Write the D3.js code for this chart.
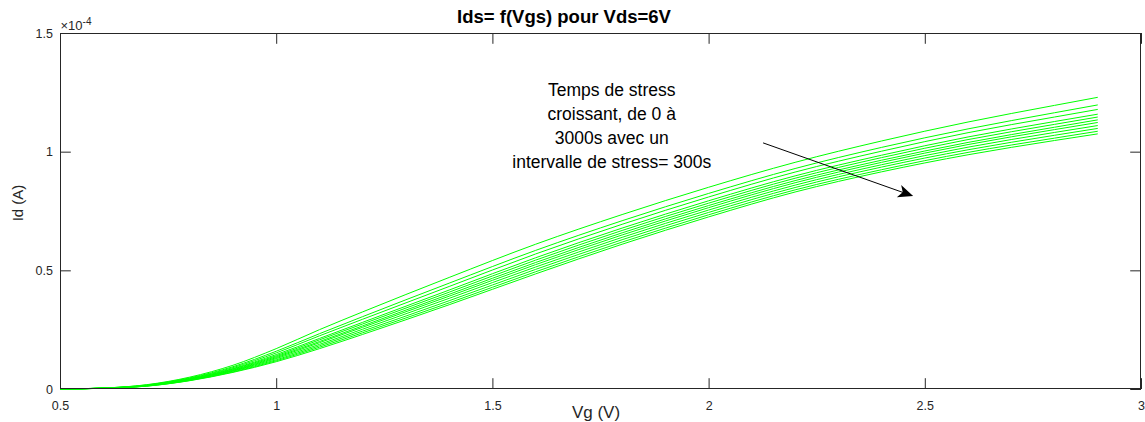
<!DOCTYPE html>
<html>
<head>
<meta charset="utf-8">
<script src="https://cdn.jsdelivr.net/npm/d3@7"></script>
<style>
  html, body { margin: 0; padding: 0; background: #fff; }
  svg { display: block; font-family: "Liberation Sans", Arial, Helvetica, sans-serif; }
</style>
</head>
<body>
<svg id="chart" width="1145" height="422"></svg>
<script>
// Gate voltage samples (V)
const vg = [0.5, 0.6, 0.7, 0.8, 0.9, 1.0, 1.1, 1.2, 1.4, 1.6, 1.8, 2.0, 2.2, 2.4, 2.6, 2.8, 2.9];

// Drain current (units of 1e-4 A) after each stress time, Vds = 6 V
const id_0s    = [0, 0.004,  0.018, 0.050, 0.100, 0.170, 0.250, 0.325, 0.470, 0.610, 0.735, 0.850, 0.955, 1.045, 1.125, 1.195, 1.229];
const id_300s  = [0, 0.004,  0.017, 0.047, 0.094, 0.159, 0.233, 0.305, 0.446, 0.584, 0.709, 0.824, 0.929, 1.018, 1.096, 1.164, 1.197];
const id_600s  = [0, 0.004,  0.016, 0.045, 0.090, 0.152, 0.224, 0.294, 0.432, 0.569, 0.694, 0.809, 0.914, 1.002, 1.080, 1.146, 1.178];
const id_900s  = [0, 0.0035, 0.015, 0.043, 0.086, 0.145, 0.213, 0.281, 0.417, 0.553, 0.678, 0.793, 0.898, 0.985, 1.062, 1.127, 1.158];
const id_1200s = [0, 0.0035, 0.015, 0.042, 0.084, 0.140, 0.207, 0.274, 0.408, 0.543, 0.668, 0.783, 0.888, 0.975, 1.051, 1.115, 1.146];
const id_1500s = [0, 0.0034, 0.014, 0.041, 0.081, 0.136, 0.200, 0.266, 0.399, 0.533, 0.658, 0.773, 0.878, 0.964, 1.039, 1.103, 1.134];
const id_1800s = [0, 0.0033, 0.014, 0.040, 0.079, 0.132, 0.195, 0.260, 0.391, 0.524, 0.649, 0.764, 0.869, 0.955, 1.030, 1.093, 1.123];
const id_2100s = [0, 0.0032, 0.013, 0.039, 0.077, 0.128, 0.188, 0.252, 0.382, 0.514, 0.639, 0.754, 0.859, 0.945, 1.019, 1.081, 1.110];
const id_2400s = [0, 0.0032, 0.013, 0.037, 0.075, 0.123, 0.182, 0.244, 0.372, 0.504, 0.629, 0.744, 0.849, 0.935, 1.008, 1.069, 1.098];
const id_2700s = [0, 0.003,  0.012, 0.036, 0.072, 0.119, 0.176, 0.237, 0.363, 0.494, 0.619, 0.734, 0.839, 0.924, 0.997, 1.057, 1.086];
const id_3000s = [0, 0.003,  0.012, 0.035, 0.070, 0.115, 0.170, 0.230, 0.355, 0.485, 0.610, 0.725, 0.830, 0.915, 0.987, 1.047, 1.075];

const series = [id_0s, id_300s, id_600s, id_900s, id_1200s, id_1500s, id_1800s,
                id_2100s, id_2400s, id_2700s, id_3000s];

// Axis ticks
const xTicks = [0.5, 1, 1.5, 2, 2.5, 3];
const xTickLabels = ["0.5", "1", "1.5", "2", "2.5", "3"];
const yTicks = [0, 0.5, 1, 1.5];
const yTickLabels = ["0", "0.5", "1", "1.5"];

// Annotation (position in data units)
const noteLines = ["Temps de stress", "croissant, de 0 à", "3000s avec un", "intervalle de stress= 300s"];
const noteAnchor = { vg: 1.776, id: 1.235 };
const arrowFrom = { vg: 2.126, id: 1.037 };
const arrowTo   = { vg: 2.473, id: 0.813 };

// ---- layout ----
const svg = d3.select("#chart");
const plot = { left: 60, right: 1141, top: 33, bottom: 389 };
const axisColor = "#262626";

const x = d3.scaleLinear().domain([0.5, 3]).range([plot.left, plot.right]);
const y = d3.scaleLinear().domain([0, 1.5]).range([plot.bottom, plot.top]);

const tickLen = 10.8;

// bottom and top axes
const xAxisB = d3.axisBottom(x).tickValues(xTicks)
  .tickFormat((d, i) => xTickLabels[i]).tickSizeInner(-tickLen).tickSizeOuter(0).tickPadding(12);
const xAxisT = d3.axisTop(x).tickValues(xTicks)
  .tickFormat("").tickSizeInner(-tickLen).tickSizeOuter(0);
const yAxisL = d3.axisLeft(y).tickValues(yTicks)
  .tickFormat((d, i) => yTickLabels[i]).tickSizeInner(-tickLen).tickSizeOuter(0).tickPadding(7);
const yAxisR = d3.axisRight(y).tickValues(yTicks)
  .tickFormat("").tickSizeInner(-tickLen).tickSizeOuter(0);

function styleAxis(g) {
  g.select(".domain").remove();
  g.selectAll(".tick line").attr("stroke", axisColor).attr("stroke-width", 1);
  g.selectAll(".tick text").attr("fill", axisColor).style("font-size", "12.5px")
    .style("font-family", "'Liberation Sans', Arial, sans-serif");
}

svg.append("g").attr("transform", `translate(0,${plot.bottom})`).call(xAxisB).call(styleAxis);
svg.append("g").attr("transform", `translate(0,${plot.top})`).call(xAxisT).call(styleAxis);
svg.append("g").attr("transform", `translate(${plot.left},0)`).call(yAxisL).call(styleAxis);
svg.append("g").attr("transform", `translate(${plot.right},0)`).call(yAxisR).call(styleAxis);

// curves
const line = d3.line()
  .x((d, i) => x(vg[i]))
  .y(d => y(d))
  .curve(d3.curveMonotoneX);

svg.append("g")
  .selectAll("path")
  .data(series)
  .join("path")
  .attr("d", line)
  .attr("fill", "none")
  .attr("stroke", "#00ff00")
  .attr("stroke-width", 1);

// axes box
svg.append("rect")
  .attr("x", plot.left + 0.5).attr("y", plot.top + 0.5)
  .attr("width", plot.right - plot.left - 1).attr("height", plot.bottom - plot.top - 1)
  .attr("fill", "none").attr("stroke", axisColor).attr("stroke-width", 1);

// exponent label
const expo = svg.append("text")
  .attr("x", plot.left + 0.5).attr("y", plot.top - 3)
  .attr("fill", axisColor).style("font-size", "13px");
expo.append("tspan").text("×10");
expo.append("tspan").attr("dy", -5).style("font-size", "10px").text("-4");

// title
svg.append("text")
  .attr("x", 564).attr("y", 23)
  .attr("text-anchor", "middle")
  .style("font-size", "18.5px").style("font-weight", "bold")
  .attr("fill", "#000")
  .text("Ids= f(Vgs) pour Vds=6V");

// axis labels
svg.append("text")
  .attr("x", 596).attr("y", 418)
  .attr("text-anchor", "middle")
  .style("font-size", "17px").attr("fill", axisColor)
  .text("Vg (V)");

svg.append("text")
  .attr("transform", `translate(23,${(plot.top + plot.bottom) / 2 - 8}) rotate(-90)`)
  .attr("text-anchor", "middle")
  .style("font-size", "15px").attr("fill", axisColor)
  .text("Id (A)");

// annotation text
const note = svg.append("text")
  .attr("text-anchor", "middle")
  .style("font-size", "17.5px").attr("fill", "#000");
note.selectAll("tspan")
  .data(noteLines)
  .join("tspan")
  .attr("x", x(noteAnchor.vg))
  .attr("y", (d, i) => y(noteAnchor.id) + i * 24)
  .text(d => d);

// arrow
const x0 = x(arrowFrom.vg), y0 = y(arrowFrom.id);
const x1 = x(arrowTo.vg),   y1 = y(arrowTo.id);
const ang = Math.atan2(y1 - y0, x1 - x0);
const headLen = 15, headHalf = 6.5, back = 4;
const ux = Math.cos(ang), uy = Math.sin(ang);
const px = -uy, py = ux;
const bx = x1 - ux * headLen, by = y1 - uy * headLen;
svg.append("line")
  .attr("x1", x0).attr("y1", y0)
  .attr("x2", x1 - ux * 8).attr("y2", y1 - uy * 8)
  .attr("stroke", "#000").attr("stroke-width", 1);
svg.append("path")
  .attr("d", `M${x1},${y1} L${bx + px * headHalf},${by + py * headHalf} L${x1 - ux * (headLen - back)},${y1 - uy * (headLen - back)} L${bx - px * headHalf},${by - py * headHalf} Z`)
  .attr("fill", "#000");
</script>
</body>
</html>
